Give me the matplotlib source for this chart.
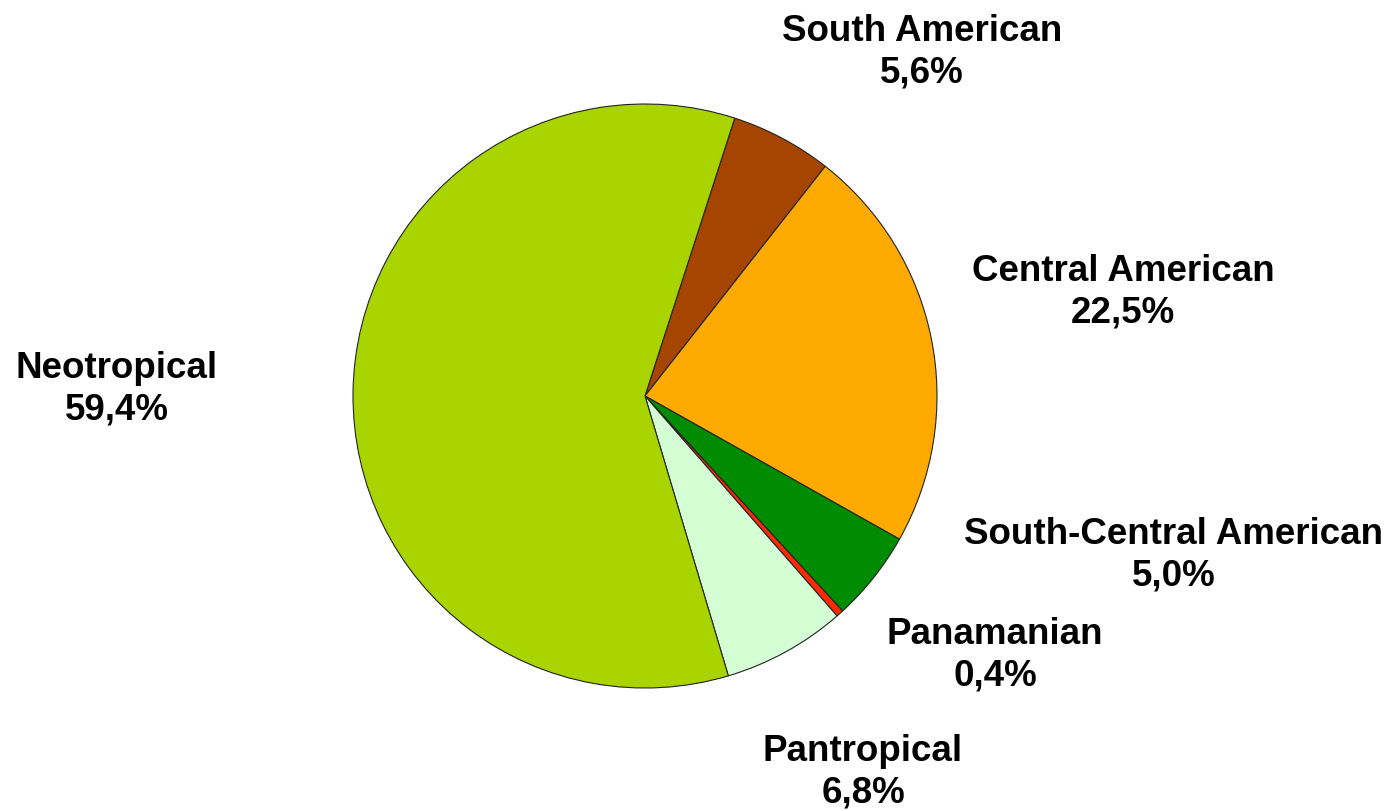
import matplotlib
matplotlib.use("Agg")
import matplotlib.pyplot as plt

# slices, clockwise starting from the top boundary
names = ["South American", "Central American", "South-Central American",
         "Panamanian", "Pantropical", "Neotropical"]
shares = [5.6, 22.5, 5.0, 0.4, 6.8, 59.4]
pct_labels = ["5,6%", "22,5%", "5,0%", "0,4%", "6,8%", "59,4%"]
colors = ["#A64500", "#FFAA00", "#008C00", "#FF2A00", "#D4FFD4", "#AAD400"]

# label centres in pixels (x, y from top)
label_pos = [(922, 52), (1123, 292), (1174, 555), (995, 655), (863, 772), (117, 389)]

W, H = 1394, 811
fig = plt.figure(figsize=(W / 100, H / 100), dpi=100)

cx, cy, r = 645, 396, 292
ax = fig.add_axes([(cx - r) / W, (H - cy - r) / H, 2 * r / W, 2 * r / H])
ax.pie(shares, colors=colors, startangle=72.1, counterclock=False,
       wedgeprops=dict(edgecolor="#222222", linewidth=0.8))
ax.set_xlim(-1.0, 1.0)
ax.set_ylim(-1.0, 1.0)
ax.axis("off")

for name, pct, (x, y) in zip(names, pct_labels, label_pos):
    fig.text(x / W, 1 - y / H, f"{name}\n{pct}", ha="center", va="center",
             multialignment="center", fontsize=26.5, fontweight="bold",
             family="Liberation Sans", linespacing=1.25)

fig.savefig("out.png", dpi=100)
